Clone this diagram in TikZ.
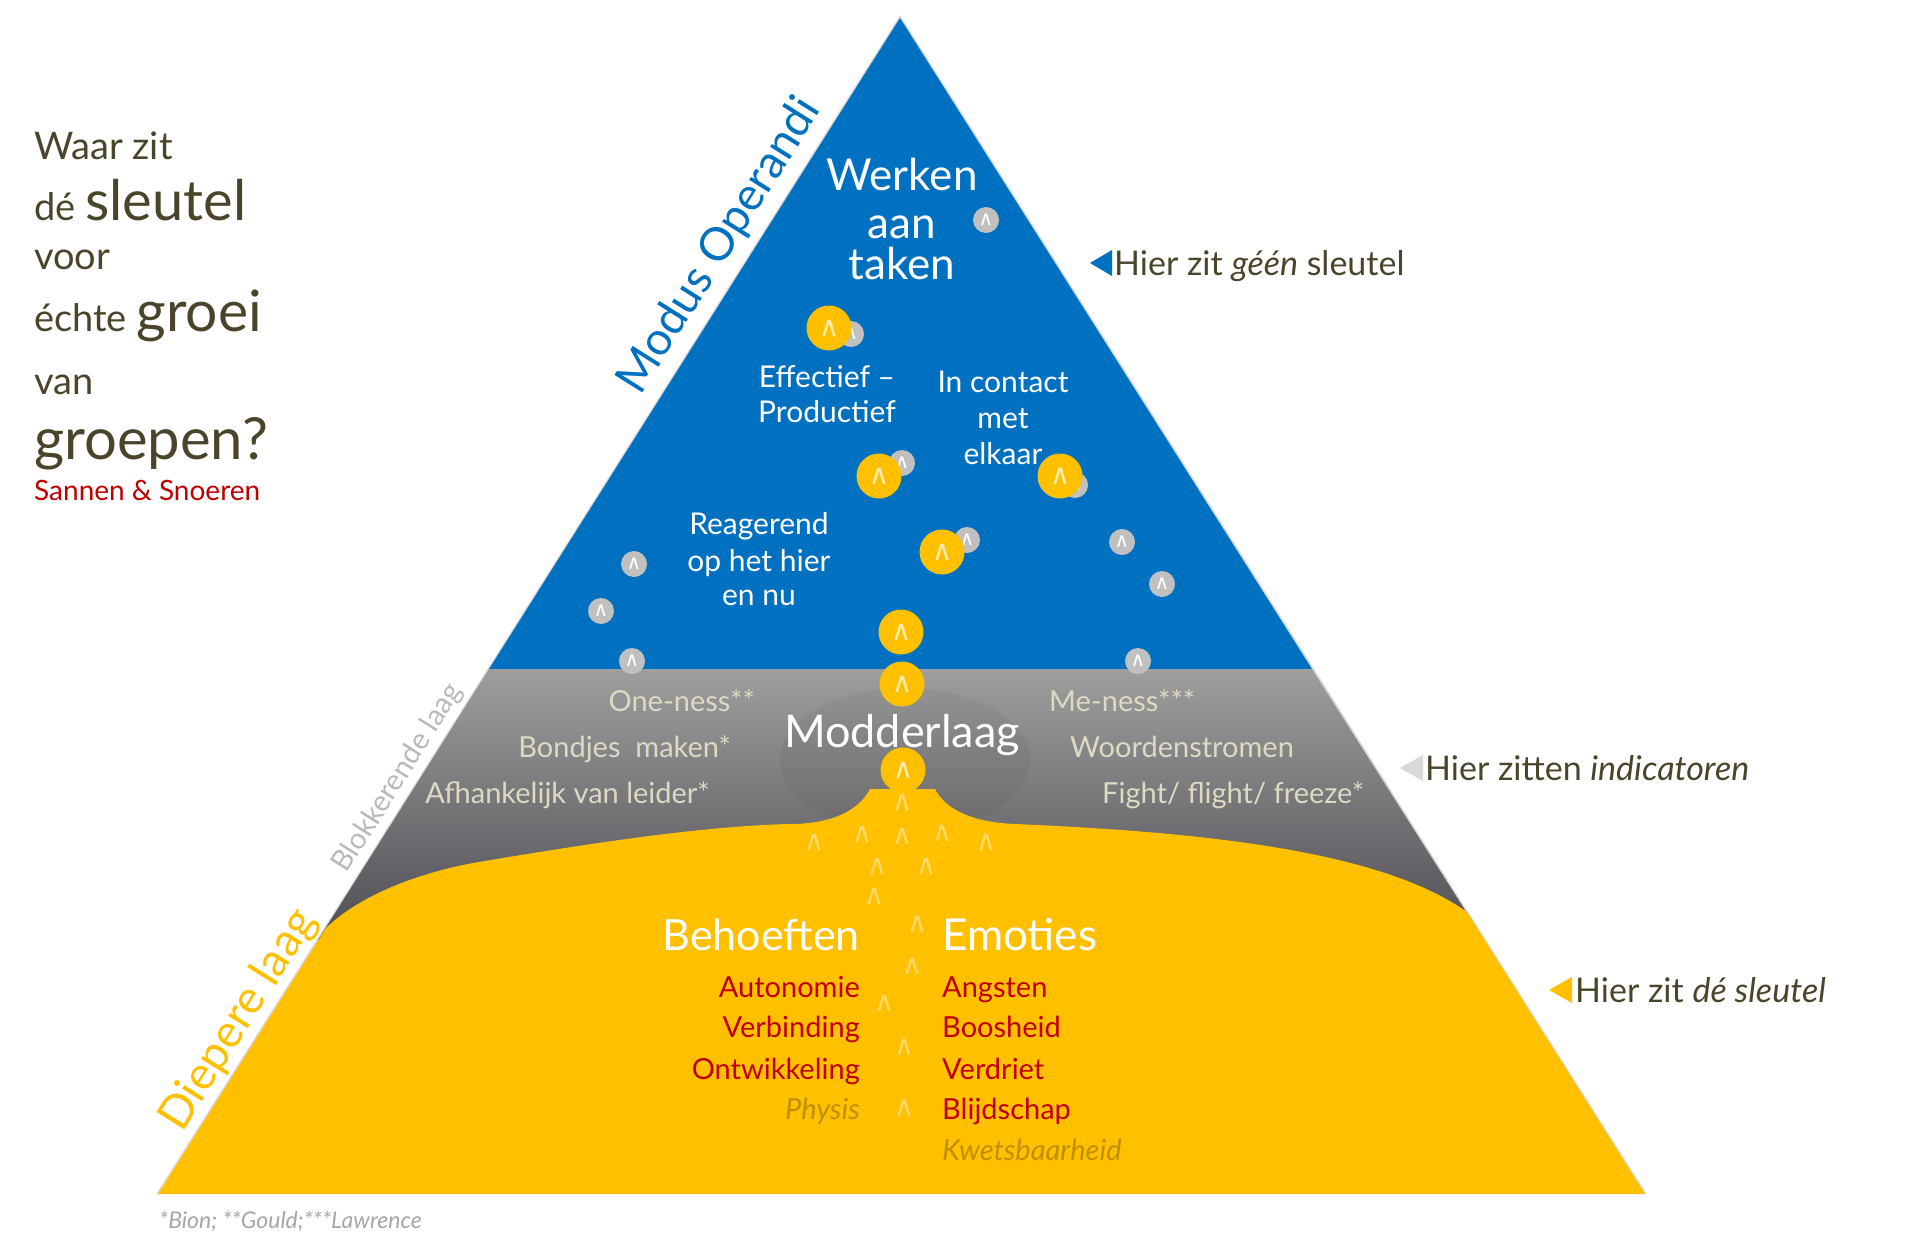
\documentclass[tikz,border=0pt]{standalone}
\usepackage{fontspec}
\setmainfont{Lato}
\newfontfamily\caretfont{DejaVu Sans}
\usetikzlibrary{positioning}
\definecolor{pyrblue}{RGB}{0,112,192}
\definecolor{pyrgold}{RGB}{255,192,0}
\definecolor{pyrred}{RGB}{192,0,0}
\definecolor{titletext}{RGB}{74,69,42}
\definecolor{mudtext}{RGB}{221,217,195}
\definecolor{mudtop}{RGB}{158,158,158}
\definecolor{mudbottom}{RGB}{78,78,84}
\definecolor{dotgrey}{RGB}{192,192,192}
\definecolor{labelgrey}{RGB}{185,185,185}
\definecolor{darkgold}{RGB}{191,144,0}
\definecolor{notegrey}{RGB}{166,166,166}
\newcommand{\fsz}[1]{\fontsize{#1}{#1}\selectfont}
\newcommand{\caret}{{\caretfont\symbol{"2227}}}
\tikzset{ydot/.style = {circle, fill=pyrgold, inner sep=0, minimum size=45,
                        text=white!70!pyrgold, font=\fsz{28}}}
\tikzset{gdot/.style = {circle, fill=dotgrey, inner sep=0, minimum size=26,
                        text=white, font=\fsz{20}}}
\tikzset{spark/.style = {text=white, text opacity=0.4, inner sep=0, font=\fsz{28}}}
\tikzset{title/.style = {text=titletext, inner sep=0, anchor=base west}}
\tikzset{hint/.style = {text=titletext, inner sep=0, anchor=base west, font=\fsz{34}}}
\tikzset{inblue/.style = {text=white, inner sep=0, anchor=base, font=\fsz{30}}}
\tikzset{inmud/.style = {text=mudtext, inner sep=0, font=\fsz{29}}}
\tikzset{need/.style = {text=pyrred, inner sep=0, anchor=base east, font=\fsz{29}}}
\tikzset{feel/.style = {text=pyrred, inner sep=0, anchor=base west, font=\fsz{29}}}
\tikzset{side/.style = {inner sep=0, rotate=57.75}}

\begin{document}
\begin{tikzpicture}[x=1pt, y=-1pt]
    \useasboundingbox (0,0) rectangle (1920,1255);
    \coordinate (apex) at (900,18);
    \coordinate (bl) at (158,1194);
    \coordinate (br) at (1645,1194);

    % layers
    \draw [gray!30, line width=3] (bl) -- (apex) -- (br);
    \fill [pyrblue] (apex) -- (489,669) -- (1312,669) -- cycle;
    \shade [top color=mudtop, bottom color=mudbottom] (489,669) -- (1312,669) -- (1484,940) -- (318,940) -- cycle;
    \fill [black, opacity=0.04] (905,760) ellipse [x radius=125, y radius=72];
    \fill [pyrgold] (326,928) .. controls (360,895) and (420,872) .. (479,862)
        .. controls (580,845) and (700,826) .. (790,824)
        .. controls (840,824) and (862,805) .. (870,789) -- (935,789)
        .. controls (943,805) and (965,822) .. (1015,824)
        .. controls (1200,832) and (1380,850) .. (1467,912)
        -- (br) -- (bl) -- cycle;

    % bubbles
    \foreach \x/\y [count=\i] in {986/220, 851/334, 902/463, 1075/485, 967/540, 634/564,
                                  601/611, 632/661, 1122/542, 1162/584, 1138/661} {
      \node [gdot] (g\i) at (\x,\y) {\caret};
    }
    \foreach \x/\y [count=\i] in {829/328, 879/476, 1060/476, 942/552, 901/632, 902/684, 903/770} {
      \node [ydot] (y\i) at (\x,\y) {\caret};
    }
    \foreach \x/\y [count=\i] in {814/842, 862/834, 902/836, 942/833, 986/842, 877/866, 926/866,
                                  874/896, 917/924, 912/966, 884/1003, 904/1047, 904/1108, 902/802} {
      \node [spark] (s\i) at (\x,\y) {\caret};
    }

    % top layer
    \node [inblue, font=\fsz{44}] (werken) at (902,190) {Werken};
    \node [inblue, font=\fsz{44}] (aan) at (902,238) {aan};
    \node [inblue, font=\fsz{44}] (taken) at (902,279) {taken};
    \node [inblue] (eff1) at (827,387) {Effectief –};
    \node [inblue] (eff2) at (827,422) {Productief};
    \node [inblue] (con1) at (1003,392) {In contact};
    \node [inblue] (con2) at (1003,428) {met};
    \node [inblue] (con3) at (1003,464) {elkaar};
    \node [inblue] (rea1) at (759,534) {Reagerend};
    \node [inblue] (rea2) at (759,571) {op het hier};
    \node [inblue] (rea3) at (759,605) {en nu};

    % middle layer
    \node [text=white, inner sep=0, anchor=base, font=\fsz{45}] (mud) at (902,747) {Modderlaag};
    \node [inmud, anchor=base east] (one) at (755,711) {One-ness**};
    \node [inmud, anchor=base east] (bond) at (731,757) {Bondjes\ \ maken*};
    \node [inmud, anchor=base east] (leider) at (710,803) {Afhankelijk van leider*};
    \node [inmud, anchor=base west] (me) at (1049,711) {Me-ness***};
    \node [inmud, anchor=base west] (woord) at (1070,757) {Woordenstromen};
    \node [inmud, anchor=base west] (fight) at (1102,803) {Fight/ flight/ freeze*};

    % deep layer
    \node [need, text=white, font=\fsz{43}] (beh) at (860,950) {Behoeften};
    \node [need] (auto) at (860,997) {Autonomie};
    \node [need] (verb) at (860,1037) {Verbinding};
    \node [need] (ontw) at (860,1079) {Ontwikkeling};
    \node [need, text=darkgold, font=\fsz{29}\itshape] (phys) at (860,1119) {Physis};
    \node [feel, text=white, font=\fsz{44}] (emo) at (942,950) {Emoties};
    \node [feel] (angst) at (942,997) {Angsten};
    \node [feel] (boos) at (942,1037) {Boosheid};
    \node [feel] (verd) at (942,1079) {Verdriet};
    \node [feel] (blij) at (942,1119) {Blijdschap};
    \node [feel, text=darkgold, font=\fsz{29}\itshape] (kwets) at (942,1160) {Kwetsbaarheid};

    % side labels
    \node [side, text=pyrblue, font=\fsz{46}] (modus) at (720,246) {Modus Operandi};
    \node [side, text=labelgrey, font=\fsz{29}] (blok) at (398,778) {Blokkerende laag};
    \node [side, text=pyrgold, font=\fsz{46}] (diep) at (239,1020) {Diepere laag};

    % question
    \node [title, font=\fsz{38}] (q1) at (34,159) {Waar zit};
    \node [title, font=\fsz{38}] (q2) at (34,220) {dé {\fsz{56}sleutel}};
    \node [title, font=\fsz{38}] (q3) at (34,269) {voor};
    \node [title, font=\fsz{38}] (q4) at (34,331) {échte {\fsz{57}groei}};
    \node [title, font=\fsz{38}] (q5) at (34,394) {van};
    \node [title, font=\fsz{58}] (q6) at (34,459) {groepen?};
    \node [title, text=pyrred, font=\fsz{28}] (auth) at (34,500) {Sannen \& Snoeren};

    % hints
    \fill [pyrblue] (1090,263) -- (1112,250) -- (1112,276) -- cycle;
    \node [hint] (hint1) at (1114,275) {Hier zit \textit{géén} sleutel};
    \fill [gray!30] (1400,768) -- (1423,755) -- (1423,781) -- cycle;
    \node [hint] (hint2) at (1425,780) {Hier zitten \textit{indicatoren}};
    \fill [pyrgold] (1549,990) -- (1572,977) -- (1572,1003) -- cycle;
    \node [hint] (hint3) at (1575,1002) {Hier zit \textit{dé sleutel}};

    \node [inner sep=0, anchor=base west, text=notegrey, font=\fsz{23}\itshape] (note) at (159,1228) {*Bion; **Gould;***Lawrence};
\end{tikzpicture}
\end{document}
